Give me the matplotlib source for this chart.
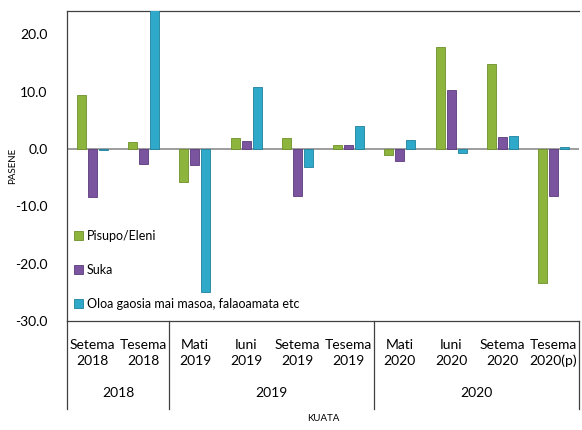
import matplotlib
matplotlib.use("Agg")
import matplotlib.pyplot as plt
import numpy as np

plt.rcParams["font.family"] = ["Lato", "DejaVu Sans"]

# ── data ──────────────────────────────────────────────────────────────────────
quarters = ["Setema\n2018", "Tesema\n2018",
            "Mati\n2019", "Iuni\n2019", "Setema\n2019", "Tesema\n2019",
            "Mati\n2020", "Iuni\n2020", "Setema\n2020", "Tesema\n2020(p)"]
years = ["2018", "2019", "2020"]
year_counts = [2, 4, 4]

pisupo = [9.4, 1.2, -5.7, 1.9, 1.9, 0.7, -1.1, 17.8, 14.8, -23.3]
suka = [-8.4, -2.6, -2.8, 1.4, -8.2, 0.7, -2.1, 10.3, 2.0, -8.2]
oloa = [-0.2, 26.0, -24.9, 10.8, -3.1, 4.0, 1.6, -0.8, 2.3, 0.3]

series = [
    ("Pisupo/Eleni", pisupo, "#8DB43C", "#6E8F2A"),
    ("Suka", suka, "#7B549F", "#5B3B7C"),
    ("Oloa gaosia mai masoa, falaoamata etc", oloa, "#2FA9C9", "#1F819C"),
]

# ── figure ────────────────────────────────────────────────────────────────────
fig = plt.figure(figsize=(5.82, 4.30), dpi=100)
ax = fig.add_axes([0.115, 0.2535, 0.880, 0.7205])

x = np.arange(len(quarters))
width = 0.176
step = 0.215
for i, (label, vals, color, edge) in enumerate(series):
    ax.bar(x + (i - 1) * step, vals, width, color=color, edgecolor=edge,
           linewidth=0.6, label=label, zorder=3)

ax.axhline(0, color="#8C8C8C", linewidth=1.2, zorder=2)
ax.set_xlim(-0.5, len(quarters) - 0.5)
ax.set_ylim(-30, 24)
ax.set_yticks([-30, -20, -10, 0, 10, 20])
ax.set_yticklabels([f"{v:.1f}" for v in [-30, -20, -10, 0, 10, 20]], fontsize=10)
ax.tick_params(axis="y", length=0, pad=14)
ax.set_xticks([])

ax.spines["right"].set_visible(False)
for side in ["left", "top", "bottom"]:
    ax.spines[side].set_color("#404040")
    ax.spines[side].set_linewidth(0.9)

ax.set_ylabel("PASENE", fontsize=7)
ax.yaxis.set_label_coords(-0.097, 0.5)

# multi-level category axis
trans = ax.get_xaxis_transform()
for xi, q in enumerate(quarters):
    ax.text(xi, -0.103, q, transform=trans, ha="center", va="center",
            fontsize=10, linespacing=1.35)

edges = np.concatenate([[0], np.cumsum(year_counts)]) - 0.5
for e in edges:
    ax.plot([e, e], [0, -0.283], transform=trans, color="#404040",
            linewidth=0.9, clip_on=False)
for yr, a, b in zip(years, edges[:-1], edges[1:]):
    ax.text((a + b) / 2, -0.232, yr, transform=trans, ha="center",
            va="center", fontsize=10)

ax.text(0.5, -0.316, "KUATA", transform=ax.transAxes, ha="center",
        va="center", fontsize=7)

ax.legend(loc="lower left", bbox_to_anchor=(0.005, 0.02), frameon=False,
          fontsize=9, labelspacing=1.75, handlelength=0.7, handleheight=0.7,
          handletextpad=0.3, borderaxespad=0)

fig.savefig("out.png", dpi=100)
